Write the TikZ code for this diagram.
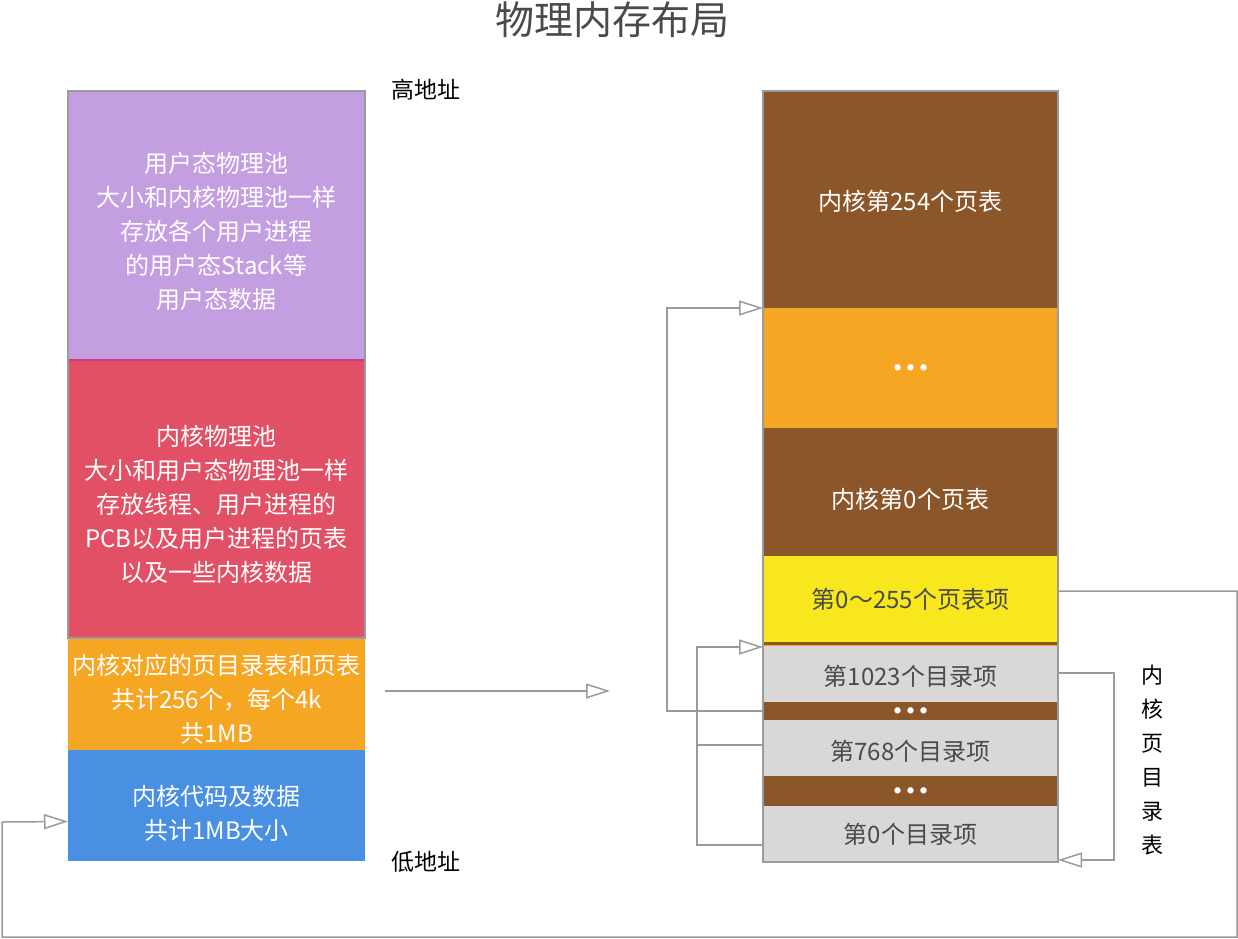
\documentclass[tikz,border=0pt]{standalone}
\usepackage{fontspec}
\setmainfont{Noto Sans CJK SC}
\usepackage{xcolor}
\usetikzlibrary{arrows.meta, positioning}
\definecolor{poolUser}{HTML}{C39EE0}
\definecolor{poolKernel}{HTML}{E15064}
\definecolor{pgdOrange}{HTML}{F5A623}
\definecolor{codeBlue}{HTML}{4A90E2}
\definecolor{tabBrown}{HTML}{8B572A}
\definecolor{pteYellow}{HTML}{F8E71C}
\definecolor{dirGray}{HTML}{D8D8D8}
\definecolor{lineGray}{HTML}{9B9B9B}
\definecolor{textGray}{HTML}{4A4A4A}
\definecolor{edgeMagenta}{HTML}{C8398F}
\newcommand{\dotrow}{{\fontsize{7}{7}\selectfont\makebox[13pt]{●}\makebox[13pt]{●}\makebox[13pt]{●}}}
\newcommand{\lowr}[1]{\rule{0pt}{#1}}

\begin{document}
\begin{tikzpicture}[x=1pt, y=-1pt, >={Triangle[open,length=24pt,width=15pt]}]

                \tikzset{% This is the style settings for the blocks
                    block/.style={rectangle,fill=#1,minimum width=297pt,inner sep=0pt,outer sep=0pt,
                                        anchor=north west,align=center,text=white,
                                        font=\fontsize{24}{34}\selectfont},
                    entry/.style={block=#1,minimum width=295pt},
                    link/.style={->,draw=lineGray,line width=1.5pt},
                    tag/.style={font=\fontsize{23}{34}\selectfont}}

                    \useasboundingbox [fill=white] (0,0) rectangle (1238,938);

                    \node [text=textGray,font=\fontsize{39}{39}\selectfont](title) at (612,20) {物理内存布局};

                    % physical memory
                    \node [block=poolUser,minimum height=269pt](p_user) at (68,91) {\lowr{33pt}用户态物理池\\大小和内核物理池一样\\存放各个用户进程\\的用户态Stack等\\用户态数据};
                    \node [block=poolKernel,minimum height=278pt](p_kernel) at (68,360) {\lowr{31pt}内核物理池\\大小和用户态物理池一样\\存放线程、用户进程的\\PCB以及用户进程的页表\\以及一些内核数据};
                    \node [block=pgdOrange,minimum height=112pt](p_pgd) at (68,638) {\lowr{31pt}内核对应的页目录表和页表\\共计256个，每个4k\\共1MB};
                    \node [block=codeBlue,minimum height=111pt](p_code) at (68,750) {\lowr{35pt}内核代码及数据\\共计1MB大小};
                    \draw [lineGray,line width=1.5pt] (p_user.north west) rectangle (p_kernel.south east);
                    \draw [edgeMagenta,line width=1.5pt] ([xshift=1pt]p_user.south west) -- ([xshift=-1pt]p_user.south east);

                    \node [tag](hi) at (426,90) {高地址};
                    \node [tag](lo) at (426,862) {低地址};

                    % page tables and page directory
                    \node [entry=tabBrown,minimum height=217pt](t_254) at (763,91) {\lowr{23pt}内核第254个页表};
                    \node [entry=pgdOrange,minimum height=120pt](t_dots) at (763,308) {\dotrow};
                    \node [entry=tabBrown,minimum height=128pt](t_0) at (763,428) {\lowr{35pt}内核第0个页表};
                    \node [entry=pteYellow,minimum height=86pt,text=textGray](t_pte) at (763,556) {第0～255个页表项};
                    \fill [tabBrown] (763,642) rectangle (1058,644.5);
                    \fill [pgdOrange] (763,644.5) rectangle (1058,646);
                    \node [entry=dirGray,minimum height=56pt,text=textGray](d_1023) at (763,646) {\lowr{25pt}第1023个目录项};
                    \node [entry=tabBrown,minimum height=18pt](d_dots1) at (763,702) {\dotrow};
                    \node [entry=dirGray,minimum height=56pt,text=textGray](d_768) at (763,720) {\lowr{27pt}第768个目录项};
                    \node [entry=tabBrown,minimum height=30pt](d_dots2) at (763,776) {\dotrow};
                    \node [entry=dirGray,minimum height=56pt,text=textGray](d_0) at (763,806) {第0个目录项};
                    \draw [lineGray,line width=1.5pt] (t_254.north west) rectangle (d_0.south east);

                    \node [tag,align=center,font=\fontsize{22}{34}\selectfont](pd) at (1152,760) {内\\核\\页\\目\\录\\表};

                    % connectors
                    \coordinate (c_r) at (1237,937);
                    \coordinate (c_l) at (2,822);

                    \draw [link] ([xshift=20pt,yshift=3pt]p_pgd.east) -- ++(225,0);
                    \draw [link] (d_dots1.west) -- ++(-96,0) |- (t_254.south west);
                    \draw [lineGray,line width=1.5pt] ([yshift=3pt]d_768.west) -- ++(-66,0);
                    \draw [link] ([yshift=-11pt]d_0.west) -- ++(-66,0) |- ([yshift=-1pt]d_1023.north west);
                    \draw [link] ([yshift=1pt]d_1023.east) -- ++(56,0) |- ([yshift=2pt]d_0.south east);
                    \draw [link] ([yshift=8pt]t_pte.east) -| (c_r) -| (c_l) -- ([yshift=-16pt]p_code.west);

            \end{tikzpicture}
\end{document}
